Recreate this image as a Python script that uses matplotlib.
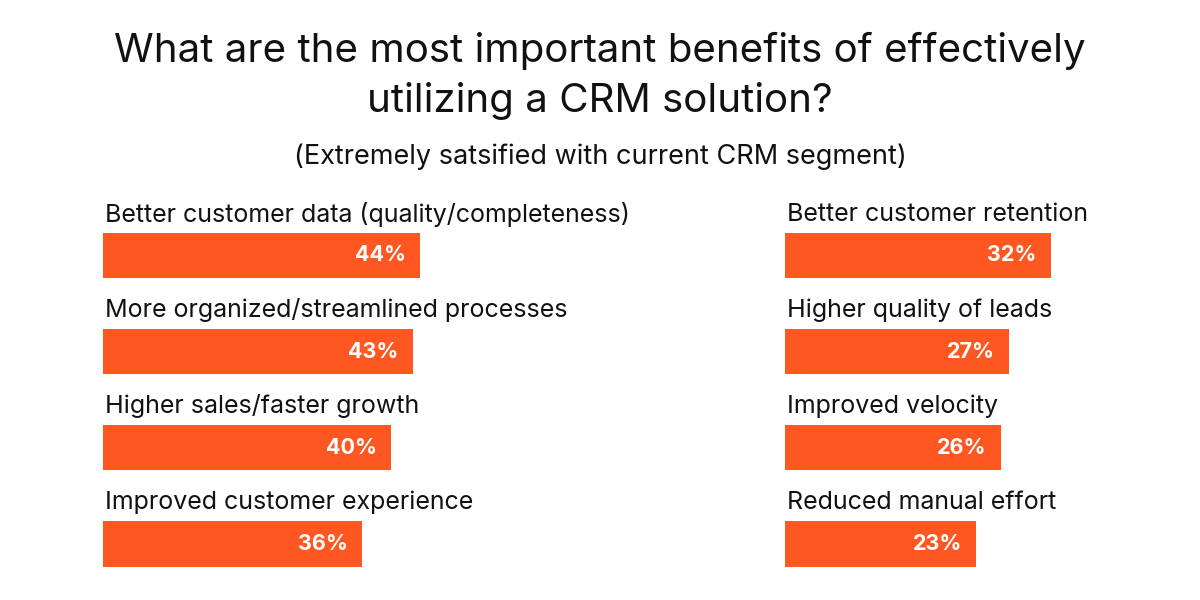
import matplotlib
matplotlib.use('Agg')
import matplotlib.pyplot as plt
from matplotlib.transforms import offset_copy

plt.rcParams['font.family'] = ['Inter', 'DejaVu Sans']

left_labels = ['Better customer data (quality/completeness)',
               'More organized/streamlined processes',
               'Higher sales/faster growth',
               'Improved customer experience']
left_values = [44, 43, 40, 36]

right_labels = ['Better customer retention',
                'Higher quality of leads',
                'Improved velocity',
                'Reduced manual effort']
right_values = [32, 27, 26, 23]

bar_color = '#FF5722'

fig = plt.figure(figsize=(12, 6), dpi=100)

fig.text(0.5, 1 - 51/600, 'What are the most important benefits of effectively',
         ha='center', va='center', fontsize=29, color='#111111')
fig.text(0.5, 1 - 101/600, 'utilizing a CRM solution?',
         ha='center', va='center', fontsize=29, color='#111111')
fig.text(0.5, 1 - 157/600, '(Extremely satsified with current CRM segment)',
         ha='center', va='center', fontsize=19.5, color='#111111')

def panel(x0, width_px, px_per_pct, labels, values):
    ax = fig.add_axes([x0/1200, 20/600, width_px/1200, 390/600])
    ax.set_xlim(0, width_px / px_per_pct)
    ax.set_ylim(3.374, -0.681)
    ax.barh(range(len(values)), values, height=0.47, color=bar_color)
    for i, (lab, v) in enumerate(zip(labels, values)):
        ax.text(0, i - 0.43, lab, transform=offset_copy(ax.transData, fig=fig, x=2, y=0, units='dots'),
                ha='left', va='center', fontsize=18, color='#111111')
        ax.text(v, i, f'{v}%', transform=offset_copy(ax.transData, fig=fig, x=-14, y=0, units='dots'),
                ha='right', va='center', fontsize=15.5, fontweight='bold', color='white')
    ax.axis('off')
    return ax

panel(103, 560, 7.2, left_labels, left_values)
panel(785, 400, 8.3, right_labels, right_values)

fig.savefig('out.png', dpi=100)
